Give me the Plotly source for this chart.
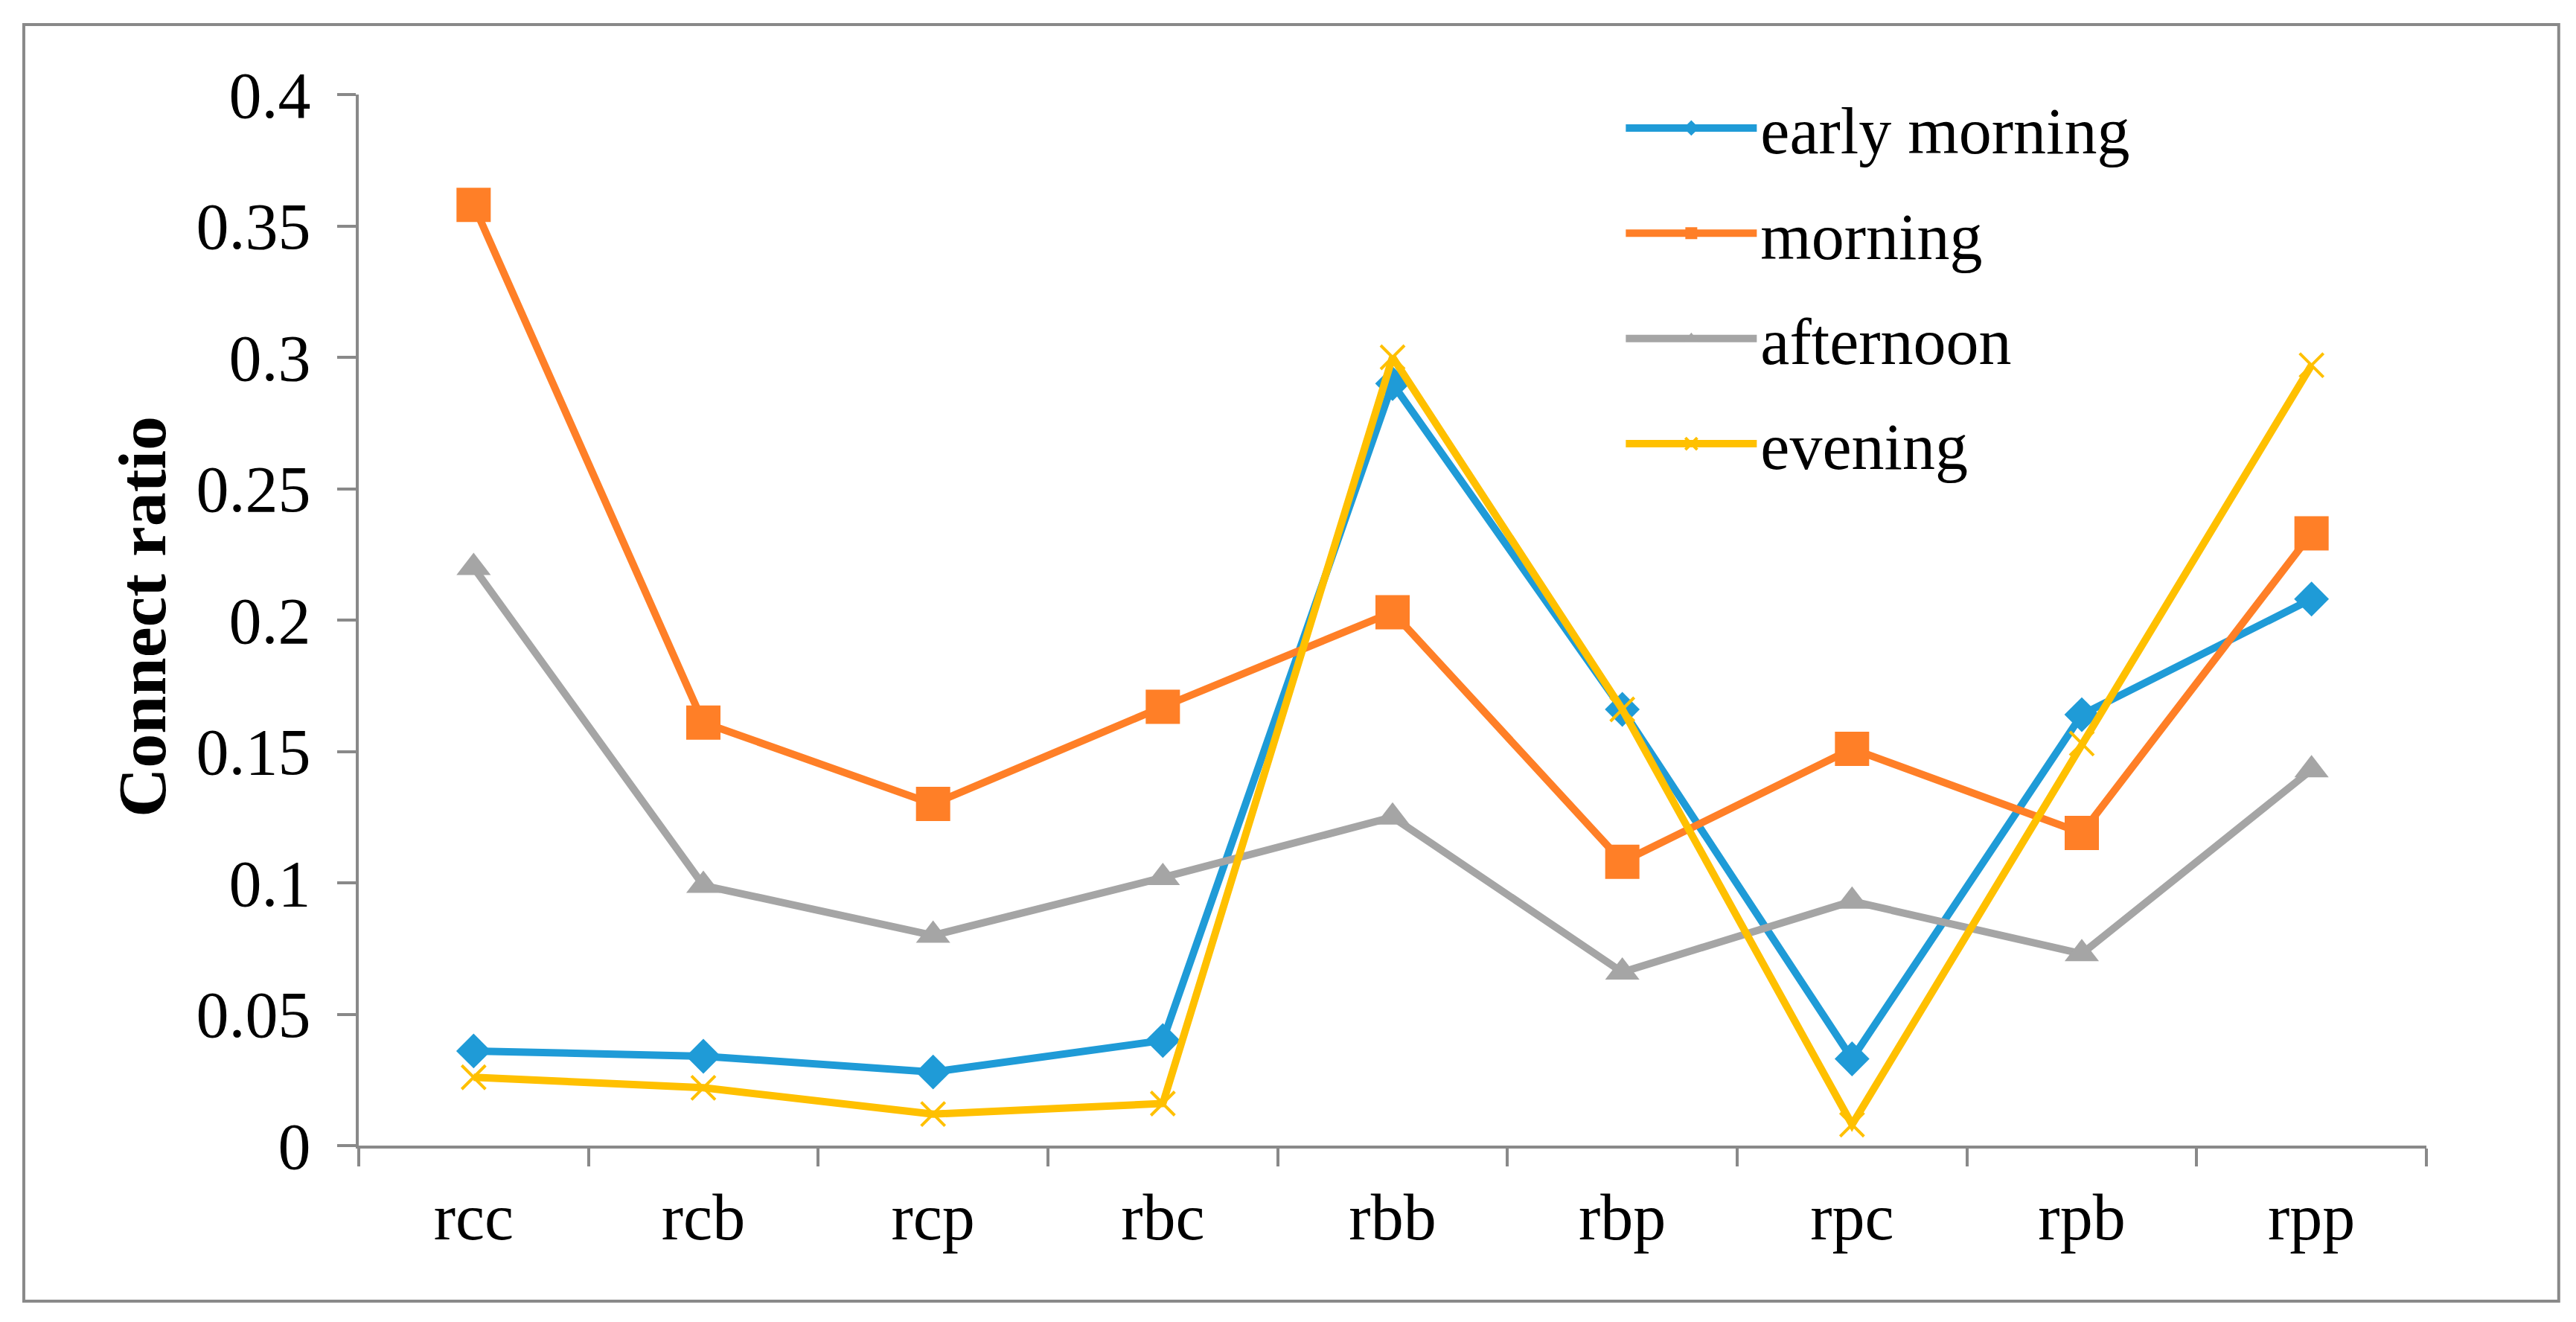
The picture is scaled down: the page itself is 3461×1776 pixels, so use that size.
import plotly.graph_objects as go

# data
categories = ["rcc", "rcb", "rcp", "rbc", "rbb", "rbp", "rpc", "rpb", "rpp"]
early_morning = [0.036, 0.034, 0.028, 0.040, 0.290, 0.166, 0.033, 0.164, 0.208]
morning = [0.358, 0.161, 0.130, 0.167, 0.203, 0.108, 0.151, 0.119, 0.233]
afternoon = [0.220, 0.099, 0.080, 0.102, 0.125, 0.066, 0.093, 0.073, 0.143]
evening = [0.026, 0.022, 0.012, 0.016, 0.300, 0.166, 0.008, 0.153, 0.297]
y_ticks = [0, 0.05, 0.1, 0.15, 0.2, 0.25, 0.3, 0.35, 0.4]
y_ticktext = ["0", "0.05", "0.1", "0.15", "0.2", "0.25", "0.3", "0.35", "0.4"]

FONT = "Liberation Serif, Times New Roman, serif"
AXIS_GREY = "#898989"

series = [
    ("early morning", early_morning, "#1F9BD7", "diamond", 36, 0),
    ("morning", morning, "#FF7F27", "square", 46, 0),
    ("afternoon", afternoon, "#A5A5A5", "triangle-up", 40, 0),
    ("evening", evening, "#FFC000", "x-thin", 32, 4),
]

fig = go.Figure()
for name, vals, color, symbol, size, lw in series:
    fig.add_trace(
        go.Scatter(
            x=categories,
            y=vals,
            name=name,
            legendgroup=name,
            mode="lines+markers",
            line=dict(color=color, width=10),
            marker=dict(symbol=symbol, size=size, color=color,
                        line=dict(color=color, width=lw)),
        )
    )

# outer chart frame
fig.add_shape(
    type="rect", xref="paper", yref="paper",
    x0=-0.162, x1=1.064, y0=-0.148, y1=1.0666,
    line=dict(color=AXIS_GREY, width=4), layer="below",
)

# y axis title
fig.add_annotation(
    text="<b>Connect ratio</b>", xref="paper", yref="paper",
    x=-0.105, y=0.503, xanchor="center", yanchor="middle",
    textangle=-90, showarrow=False,
    font=dict(family=FONT, size=92, color="black"),
)

fig.update_xaxes(
    type="category", range=[-0.5, len(categories) - 0.5],
    showline=True, linecolor=AXIS_GREY, linewidth=4,
    ticks="outside", tickson="boundaries", ticklen=24, tickwidth=4,
    tickcolor=AXIS_GREY, showgrid=False, zeroline=False,
    ticklabelstandoff=16,
    tickfont=dict(family=FONT, size=88, color="black"),
)
fig.update_yaxes(
    range=[0, 0.4], tickvals=y_ticks, ticktext=y_ticktext,
    showline=True, linecolor=AXIS_GREY, linewidth=4,
    ticks="outside", ticklen=25, tickwidth=4, tickcolor=AXIS_GREY,
    showgrid=False, zeroline=False,
    ticklabelstandoff=18,
    tickfont=dict(family=FONT, size=88, color="black"),
)

# page body has an 8px margin, so the figure is 8px smaller than the window
fig.update_layout(
    width=3453,
    height=1768,
    margin=dict(l=474, r=201, t=119, b=237),
    paper_bgcolor="white",
    plot_bgcolor="white",
    font=dict(family=FONT, size=88, color="black"),
    legend=dict(
        x=0.611, y=1.0133, xanchor="left", yanchor="top",
        bgcolor="rgba(0,0,0,0)", tracegroupgap=24,
        itemwidth=176, font=dict(family=FONT, size=88),
    ),
)

fig.write_html("out.html")
